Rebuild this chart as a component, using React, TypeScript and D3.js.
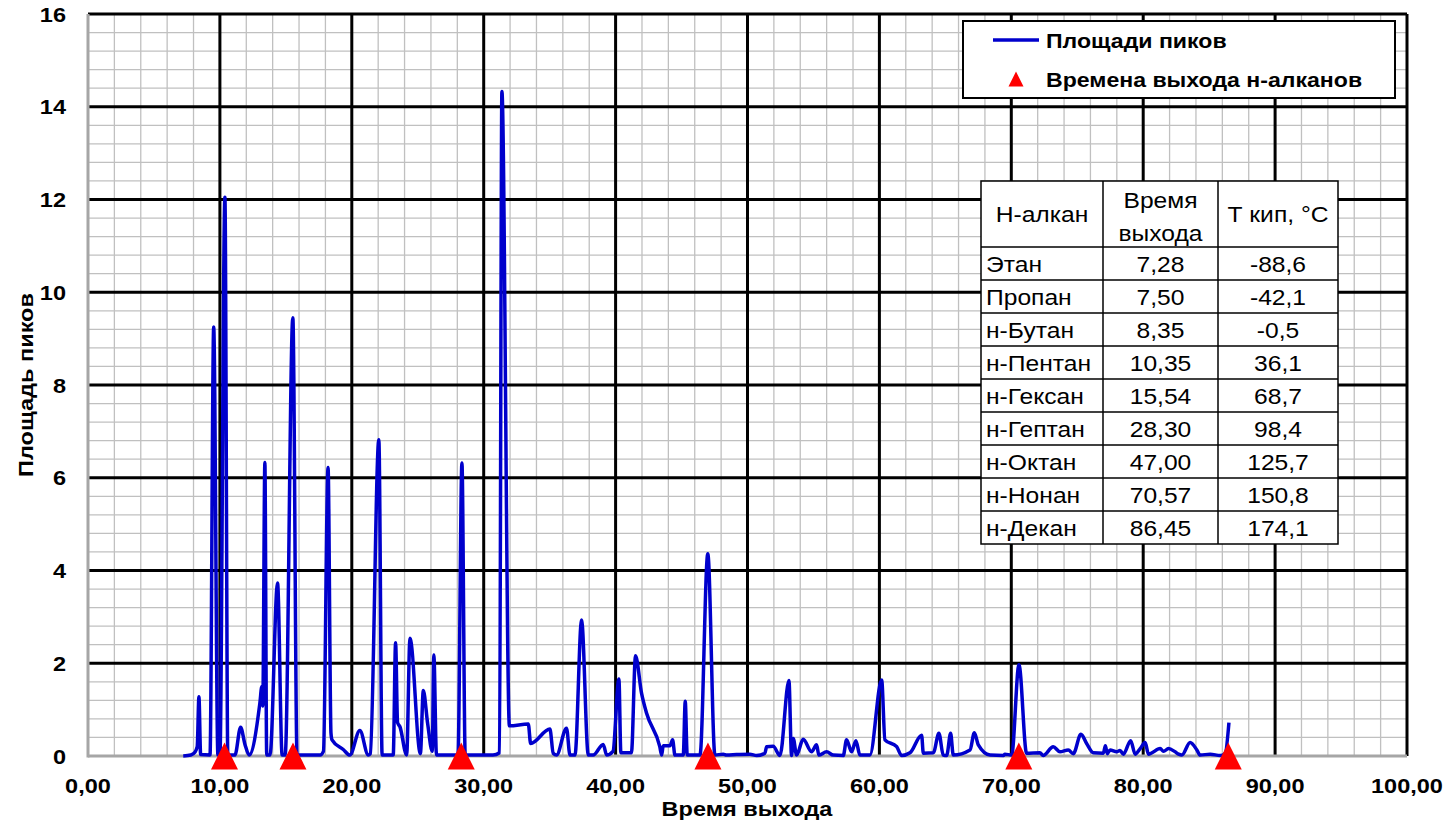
import React from "react";
import * as d3 from "d3";

const times = [7.22,7.8,8.1,8.28,8.41,8.54,9.25,9.53,9.85,10.0,10.38,10.6,11.14,11.57,11.9,12.22,13.03,13.18,13.25,13.41,13.55,13.8,14.37,14.72,14.95,15.53,15.85,17.6,17.85,18.2,18.42,18.5,19.35,19.85,20.61,21.25,21.4,22.05,22.3,23.14,23.32,23.47,23.65,24.16,24.41,25.2,25.42,25.75,26.1,26.22,26.42,28.05,28.35,28.6,30.7,31.2,31.38,31.95,33.38,33.56,35.02,35.27,35.52,36.28,36.54,36.92,37.42,37.93,38.3,39.06,39.32,39.8,40.25,40.4,41.2,41.51,41.97,42.35,43.35,43.49,43.61,44.12,44.32,44.5,45.13,45.28,45.43,46.4,46.99,47.53,48.16,48.41,49.17,50.18,50.69,51.32,51.45,51.95,52.46,53.14,53.34,53.47,53.72,54.22,54.86,55.24,55.41,56.0,56.5,57.26,57.51,57.89,58.22,58.52,59.28,60.17,60.42,61.31,61.69,62.32,63.2,63.33,64.09,64.51,64.84,65.1,65.4,65.6,66.87,67.2,67.5,68.39,69.4,69.52,70.03,70.58,71.16,72.17,72.42,73.18,73.69,74.32,74.7,75.28,75.71,76.22,76.98,77.13,77.28,77.49,77.99,78.24,78.5,79.05,79.39,79.77,80.15,80.4,81.29,81.54,81.92,82.42,82.68,82.93,83.56,84.07,84.32,85.08,85.84,86.22,86.5];
const areas = [0,0.02,0.08,0.2,1.28,0.03,0.02,9.25,0.02,0.02,12.05,0.02,0.02,0.62,0.25,0.02,1.14,1.5,1.08,6.33,0.02,0.02,3.73,0.02,0.02,9.45,0.02,0.02,0.1,6.22,0.5,0.35,0.14,0.02,0.55,0.02,0.05,6.82,0.02,0.02,2.44,0.72,0.63,0.02,2.54,0.05,1.41,0.7,0.1,2.18,0.02,0.02,6.32,0.02,0.02,0.07,14.33,0.65,0.69,0.27,0.58,0.06,0.02,0.6,0.02,0.02,2.93,0.02,0.02,0.25,0.02,0.1,1.66,0.07,0.07,2.16,1.35,0.92,0.2,0.02,0.22,0.22,0.35,0.02,0.02,1.18,0.02,0.02,4.36,0.02,0.04,0.02,0.03,0.04,0.01,0.06,0.2,0.21,0.01,1.63,0.01,0.38,0.02,0.36,0.09,0.24,0.02,0.09,0.02,0.01,0.35,0.09,0.33,0.02,0.02,1.64,0.35,0.2,0.01,0.07,0.45,0.06,0.07,0.49,0.02,0.01,0.49,0.02,0.13,0.5,0.24,0.02,0.01,0.04,0.02,1.97,0.06,0.07,0.01,0.2,0.09,0.13,0.05,0.47,0.27,0.07,0.06,0.22,0.05,0.13,0.09,0.12,0.04,0.33,0.04,0.16,0.29,0.04,0.16,0.1,0.16,0.09,0.04,0.02,0.29,0.13,0.02,0.04,0.01,0.06,0.72];

const alkaneNames = ["Этан","Пропан","н-Бутан","н-Пентан","н-Гексан","н-Гептан","н-Октан","н-Нонан","н-Декан"];
const alkaneTimes = ["7,28","7,50","8,35","10,35","15,54","28,30","47,00","70,57","86,45"];
const alkaneBoil = ["-88,6","-42,1","-0,5","36,1","68,7","98,4","125,7","150,8","174,1"];
const markerTimes = [10.35, 15.54, 28.30, 47.00, 70.57, 86.45];

const xTicks = [0,10,20,30,40,50,60,70,80,90,100];
const yTicks = [0,2,4,6,8,10,12,14,16];

const W = 1449, H = 823;
const L = 88, R = 1407, T = 14, B = 756;
const SX = 1.12;

function Txt(props: { x: number; y: number; size: number; bold?: boolean; anchor?: string; rotate?: number; sx?: number; children: React.ReactNode }) {
  const { x, y, size, bold, anchor, rotate, sx, children } = props;
  const s = sx ?? SX;
  return (
    <text
      transform={`translate(${x},${y})${rotate ? ` rotate(${rotate})` : ""} scale(${s},1)`}
      textAnchor={anchor || "start"}
      fontSize={size}
      fontWeight={bold ? "bold" : "normal"}
    >
      {children}
    </text>
  );
}

export default function App() {
  const x = d3.scaleLinear().domain([0, 100]).range([L, R]);
  const y = d3.scaleLinear().domain([0, 16]).range([B, T]);
  const pts = times.map((t, i) => [t, areas[i]] as [number, number]);
  const line = d3.line<[number, number]>().x(d => x(d[0])).y(d => y(d[1])).curve(d3.curveMonotoneX);
  const minorX = d3.range(0, 100.001, 2);
  const minorY = d3.range(0, 16.001, 0.4);
  const tri = (cx: number, cy: number, s: number) =>
    `M${cx},${cy - s / 2}L${cx + s / 2},${cy + s / 2}L${cx - s / 2},${cy + s / 2}Z`;
  const font = "'Liberation Sans', Arial, sans-serif";

  const tL = 981, tR = 1338, tT = 181, hdrB = 247, rowH = 33;
  const cols = [981, 1103, 1218, 1338];
  const rowYs = alkaneNames.map((_, i) => hdrB + i * rowH);

  return (
    <div style={{ position: "absolute", left: 0, top: 0 }}>
      <svg width={W} height={H} style={{ display: "block", fontFamily: font }}>
        <rect width={W} height={H} fill="#fff" />
        {minorX.map(v => (
          <line key={"mx" + v} x1={x(v)} x2={x(v)} y1={T} y2={B} stroke="#c0c0c0" strokeWidth={1.3} />
        ))}
        {minorY.map(v => (
          <line key={"my" + v} x1={L} x2={R} y1={y(v)} y2={y(v)} stroke="#c0c0c0" strokeWidth={1.3} />
        ))}
        {xTicks.filter(v => v > 0 && v < 100).map(v => (
          <line key={"Mx" + v} x1={x(v)} x2={x(v)} y1={T} y2={B} stroke="#000" strokeWidth={3} />
        ))}
        {yTicks.filter(v => v > 0 && v < 16).map(v => (
          <line key={"My" + v} x1={L} x2={R} y1={y(v)} y2={y(v)} stroke="#000" strokeWidth={3} />
        ))}
        <line x1={L} x2={R} y1={T} y2={T} stroke="#000" strokeWidth={3} />
        <line x1={R} x2={R} y1={T} y2={B} stroke="#000" strokeWidth={3} />
        <line x1={L} x2={L} y1={T} y2={B + 1.5} stroke="#a6a6a6" strokeWidth={3} />
        <line x1={L} x2={R} y1={B} y2={B} stroke="#a6a6a6" strokeWidth={3} />

        <path d={line(pts) || ""} fill="none" stroke="#0000cc" strokeWidth={3.5} strokeLinejoin="round" />

        {markerTimes.map(t => (
          <path key={"m" + t} d={tri(x(t), y(0), 27)} fill="#ff0000" />
        ))}

        {yTicks.map(v => (
          <Txt key={"yl" + v} x={66} y={y(v) + 7.5} anchor="end" size={21} bold>{v}</Txt>
        ))}
        {xTicks.map(v => (
          <Txt key={"xl" + v} x={x(v)} y={793} anchor="middle" size={21} bold>{d3.format(".2f")(v).replace(".", ",")}</Txt>
        ))}
        <Txt x={747} y={816} anchor="middle" size={21} bold>Время выхода</Txt>
        <text transform={`translate(33,385) rotate(-90) scale(${SX},1)`} textAnchor="middle" fontSize={21} fontWeight="bold">Площадь пиков</text>

        <rect x={963} y={21} width={432} height={77} fill="#fff" stroke="#000" strokeWidth={2} />
        <line x1={993} x2={1039} y1={40} y2={40} stroke="#0000cc" strokeWidth={3.5} />
        <Txt x={1046} y={48} size={21} bold sx={1.1}>Площади пиков</Txt>
        <path d={tri(1016, 79, 15)} fill="#ff0000" />
        <Txt x={1046} y={87} size={21} bold sx={1.1}>Времена выхода н-алканов</Txt>

        <rect x={tL} y={tT} width={tR - tL} height={hdrB + rowH * 9 - tT} fill="#fff" stroke="#000" strokeWidth={1.5} />
        {[hdrB, ...rowYs.slice(1)].map((ry, i) => (
          <line key={"tr" + i} x1={tL} x2={tR} y1={ry} y2={ry} stroke="#000" strokeWidth={1.5} />
        ))}
        {cols.slice(1, 3).map((cx, i) => (
          <line key={"tc" + i} x1={cx} x2={cx} y1={tT} y2={hdrB + rowH * 9} stroke="#000" strokeWidth={1.5} />
        ))}
        <Txt x={(cols[0] + cols[1]) / 2} y={222} anchor="middle" size={22}>Н-алкан</Txt>
        <Txt x={(cols[1] + cols[2]) / 2} y={208} anchor="middle" size={22}>Время</Txt>
        <Txt x={(cols[1] + cols[2]) / 2} y={241} anchor="middle" size={22}>выхода</Txt>
        <Txt x={(cols[2] + cols[3]) / 2} y={222} anchor="middle" size={22}>Т кип, °С</Txt>
        {alkaneNames.map((n, i) => (
          <g key={"row" + i}>
            <Txt x={986} y={rowYs[i] + 25} size={22}>{n}</Txt>
            <Txt x={(cols[1] + cols[2]) / 2} y={rowYs[i] + 25} anchor="middle" size={22}>{alkaneTimes[i]}</Txt>
            <Txt x={(cols[2] + cols[3]) / 2} y={rowYs[i] + 25} anchor="middle" size={22}>{alkaneBoil[i]}</Txt>
          </g>
        ))}
      </svg>
    </div>
  );
}
